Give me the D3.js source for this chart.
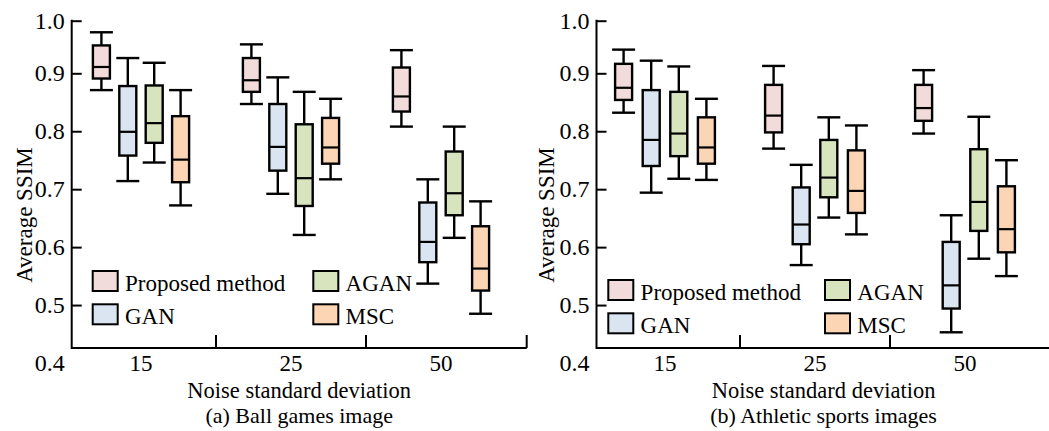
<!DOCTYPE html>
<html><head><meta charset="utf-8">
<script src="https://cdn.jsdelivr.net/npm/d3@7"></script>
<style>
body{margin:0;background:#fff}
text{font-family:"Liberation Serif","Times New Roman",serif;fill:#000}
</style>
</head><body>
<svg id="chart" width="1049" height="431"></svg>
<script>
// ---------- data ----------
const categories = ["15", "25", "50"];
const seriesNames = ["Proposed method", "GAN", "AGAN", "MSC"];
const yTickValues = [0.4, 0.5, 0.6, 0.7, 0.8, 0.9, 1.0];
const xTitle = "Noise standard deviation";
const yTitle = "Average SSIM";
const captions = ["(a) Ball games image", "(b) Athletic sports images"];
// each entry: [lower whisker, Q1, median, Q3, upper whisker] for noise 15, 25, 50
const ballProposed = [[0.871,0.891,0.912,0.953,0.978],[0.847,0.868,0.888,0.929,0.955],[0.808,0.834,0.860,0.911,0.944]];
const ballGAN      = [[0.714,0.758,0.799,0.878,0.929],[0.692,0.732,0.773,0.847,0.893],[0.537,0.574,0.609,0.677,0.717]];
const ballAGAN     = [[0.746,0.780,0.814,0.879,0.920],[0.621,0.671,0.719,0.812,0.868],[0.616,0.655,0.693,0.765,0.808]];
const ballMSC      = [[0.672,0.712,0.751,0.826,0.871],[0.717,0.744,0.772,0.823,0.856],[0.485,0.525,0.563,0.636,0.679]];
const athProposed  = [[0.832,0.854,0.875,0.918,0.945],[0.770,0.798,0.827,0.880,0.914],[0.796,0.818,0.840,0.880,0.906]];
const athGAN       = [[0.694,0.740,0.785,0.871,0.924],[0.569,0.605,0.639,0.703,0.742],[0.453,0.494,0.534,0.609,0.655]];
const athAGAN      = [[0.718,0.757,0.796,0.868,0.913],[0.651,0.686,0.720,0.785,0.824],[0.580,0.628,0.678,0.769,0.825]];
const athMSC       = [[0.716,0.744,0.772,0.824,0.856],[0.622,0.659,0.697,0.767,0.810],[0.550,0.591,0.631,0.705,0.750]];

// ---------- styling / layout ----------
const fills = ["#f2dcdb", "#dbe5f1", "#d7e4bd", "#fcd5b5"];
const yFloor = 0.426;  // where the x axis line sits
const panels = [
  {series:[ballProposed, ballGAN, ballAGAN, ballMSC], caption:captions[0],
   axisX:71.7, band:[66,516], slot:26.4, legendX:[92.7,313.3], legendY:271, yTitleX:31.7},
  {series:[athProposed, athGAN, athAGAN, athMSC], caption:captions[1],
   axisX:596.5, band:[590,1040], slot:27.6, legendX:[608.3,825], legendY:280, yTitleX:554}
];

const svg = d3.select("#chart");
const y = d3.scaleLinear().domain([0.4, 0.9, 1.0]).range([363, 73.3, 20.7]);
const stroke = "#000";

panels.forEach(p => {
  const g = svg.append("g");
  const x = d3.scaleBand().domain(categories).range(p.band).padding(0);
  const inner = d3.scaleBand().domain(seriesNames)
      .range([-2*p.slot, 2*p.slot]).padding(0);
  const boxW = 17, capW = 23;
  const axisY = y(yFloor);
  const axisEnd = p.band[1] + 10.7;

  // boxes
  seriesNames.forEach((s, si) => {
    categories.forEach((c, ci) => {
      const d = p.series[si][ci];
      const cx = x(c) + x.bandwidth()/2 + inner(s) + inner.bandwidth()/2;
      const bg = g.append("g");
      bg.append("line").attr("x1",cx).attr("x2",cx).attr("y1",y(d[4])).attr("y2",y(d[0]))
        .attr("stroke",stroke).attr("stroke-width",2.4);
      bg.append("rect").attr("x",cx-boxW/2).attr("width",boxW)
        .attr("y",y(d[3])).attr("height",y(d[1])-y(d[3]))
        .attr("fill",fills[si]).attr("stroke",stroke).attr("stroke-width",2.4);
      bg.append("line").attr("x1",cx-boxW/2).attr("x2",cx+boxW/2).attr("y1",y(d[2])).attr("y2",y(d[2]))
        .attr("stroke",stroke).attr("stroke-width",2.2);
      [d[0], d[4]].forEach(v => {
        bg.append("line").attr("x1",cx-capW/2).attr("x2",cx+capW/2).attr("y1",y(v)).attr("y2",y(v))
          .attr("stroke",stroke).attr("stroke-width",2.4);
      });
    });
  });

  // y axis
  const yAxis = d3.axisLeft(y).tickValues(yTickValues).tickSize(-10).tickPadding(7)
      .tickFormat(d3.format(".1f"));
  const ya = g.append("g").attr("transform",`translate(${p.axisX},0)`).call(yAxis);
  ya.attr("font-family", null);
  ya.select(".domain").remove();
  ya.selectAll(".tick line").attr("stroke",stroke).attr("stroke-width",2);
  ya.selectAll(".tick").filter(d => d < yFloor).select("line").remove();
  ya.selectAll(".tick text").attr("font-size",24);
  g.append("line").attr("x1",p.axisX).attr("x2",p.axisX).attr("y1",y(1.0)-1).attr("y2",axisY+1)
    .attr("stroke",stroke).attr("stroke-width",2);

  // x axis
  g.append("line").attr("x1",p.axisX).attr("x2",axisEnd).attr("y1",axisY).attr("y2",axisY)
    .attr("stroke",stroke).attr("stroke-width",2);
  const dividers = categories.slice(1).map(c => x(c)).concat([axisEnd]);
  dividers.forEach(dx => {
    g.append("line").attr("x1",dx).attr("x2",dx).attr("y1",axisY).attr("y2",axisY-13)
      .attr("stroke",stroke).attr("stroke-width",2);
  });
  categories.forEach(c => {
    g.append("text").attr("x",x(c)+x.bandwidth()/2).attr("y",y(0.4))
      .attr("dy","0.35em").attr("text-anchor","middle").attr("font-size",23).text(c);
  });

  // titles
  const midX = (p.axisX + axisEnd)/2;
  g.append("text").attr("x",midX).attr("y",398).attr("text-anchor","middle")
    .attr("font-size",22.5).text(xTitle);
  g.append("text").attr("x",midX).attr("y",423).attr("text-anchor","middle")
    .attr("font-size",22).text(p.caption);
  g.append("text").attr("transform",`translate(${p.yTitleX},215) rotate(-90)`)
    .attr("text-anchor","middle").attr("font-size",23).text(yTitle);

  // legend
  seriesNames.forEach((s, si) => {
    const col = si === 0 || si === 1 ? 0 : 1;
    const row = si === 0 || si === 2 ? 0 : 1;
    const lx = p.legendX[col], ly = p.legendY + row*33.3;
    g.append("rect").attr("x",lx).attr("y",ly).attr("width",25).attr("height",20)
      .attr("fill",fills[si]).attr("stroke",stroke).attr("stroke-width",2);
    g.append("text").attr("x",lx+32.3).attr("y",ly+19.5).attr("font-size",23).text(s);
  });
});
</script>
</body></html>
